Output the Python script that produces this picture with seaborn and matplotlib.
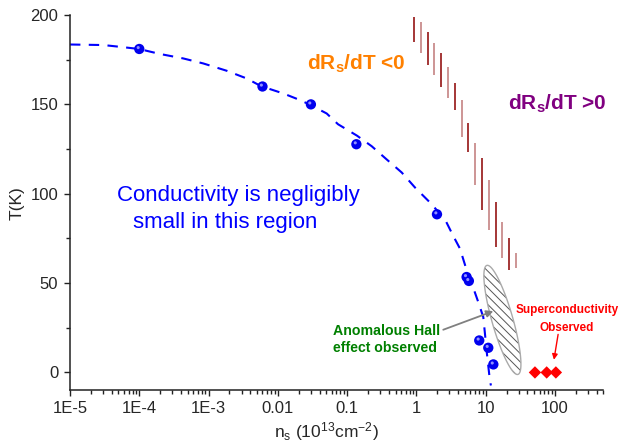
import matplotlib
matplotlib.use('agg')
import matplotlib.pyplot as plt
from matplotlib.patches import Polygon
from matplotlib.ticker import MultipleLocator, NullFormatter
import numpy as np
import seaborn as sns

# Tc points (blue spheres)
n_pts = [1e-4, 0.006, 0.03, 0.136, 1.98, 5.3, 5.72, 8.07, 10.9, 12.9]
T_pts = [181, 160, 150, 127.7, 88.5, 53.4, 51.2, 17.9, 13.8, 4.5]

# dashed guide line
n_curve = [1e-5, 3.03e-5, 5.27e-5, 9.9e-5, 1.99e-4, 4.32e-4, 8.39e-4, 1.83e-3, 3.55e-3,
           5.71e-3, 0.012, 0.0209, 0.0298, 0.0507, 0.0738, 0.1387, 0.226, 0.372, 0.613,
           0.953, 1.57, 2.58, 3.40, 4.25, 5.14, 6.27, 7.81, 9.23, 9.75, 10.3, 11.5, 11.9]
T_curve = [183.5, 183.2, 182.2, 181, 178.2, 175.7, 172.9, 168.8, 164.5,
           160.2, 156.1, 152.4, 149.6, 144.9, 138.9, 132.5, 126.6, 119.2, 111.9,
           103.5, 95.1, 85.7, 76.4, 69.3, 59, 49.9, 39.4, 31, 21.8, 12.3, -4.5, -7.3]

# superconducting samples
n_sc = [51.4, 75.9, 103]
T_sc = [0, 0, 0]

# dRs/dT sign boundary (short vertical strokes)
n_bnd = [0.93, 1.16, 1.45, 1.81, 2.26, 2.88, 3.60, 4.50, 5.60, 7.0, 8.74, 11.1, 13.9, 17.3, 21.7, 27.1]
T_bnd_top = [198.9, 196.1, 190.5, 184.3, 178.7, 170.9, 161.9, 152.4, 139.5, 128.3, 119.9, 107.6, 95.2, 84.0, 75.1, 66.7]
T_bnd_bot = [184.9, 178.7, 172.0, 166.4, 159.7, 153.5, 146.8, 131.7, 123.2, 104.8, 90.8, 79.6, 70.0, 63.9, 57.1, 58.3]

# anomalous Hall region (ends of the hatched ellipse)
ah_top = (10.4, 59.9)
ah_bot = (29.2, -1.1)

x_ticks = [1e-5, 1e-4, 1e-3, 1e-2, 1e-1, 1, 10, 100]
x_labels = ['1E-5', '1E-4', '1E-3', '0.01', '0.1', '1', '10', '100']
y_ticks = [0, 50, 100, 150, 200]

sns.set_theme(style='ticks')
plt.rcParams['font.family'] = ['Liberation Sans', 'DejaVu Sans']
plt.rcParams['mathtext.fontset'] = 'custom'
plt.rcParams['mathtext.rm'] = 'Liberation Sans'
plt.rcParams['mathtext.it'] = 'Liberation Sans:italic'
plt.rcParams['mathtext.bf'] = 'Liberation Sans:bold'
plt.rcParams['hatch.linewidth'] = 0.7

fig = plt.figure(figsize=(6.19, 4.47), dpi=100)
ax = fig.add_axes([0.1131, 0.1268, 0.8617, 0.8396])
ax.set_xscale('log')
ax.set_xlim(1e-5, 500)
ax.set_ylim(-10, 200)

sns.lineplot(x=n_curve, y=T_curve, ax=ax, color='#0000FF', lw=1.5,
             linestyle=(0, (5, 4)), sort=False, estimator=None)
sns.scatterplot(x=n_pts, y=T_pts, ax=ax, color='#0000EE', s=55, edgecolor='none', zorder=4)
# little highlight to fake the sphere look
hl = matplotlib.transforms.offset_copy(ax.transData, fig=fig, x=-0.8, y=1.0, units='points')
ax.scatter(n_pts, T_pts, s=5, color='#9090FF', edgecolor='none', transform=hl, zorder=5)
sns.scatterplot(x=n_sc, y=T_sc, ax=ax, color='#FF0000', marker='D', s=40, edgecolor='none',
                zorder=4, clip_on=False)

ax.vlines(n_bnd, T_bnd_bot, T_bnd_top, colors=['#8B0000', '#C07878'], lw=1.1)

# hatched ellipse, built in display space so it looks right on the log axis
p1 = ax.transData.transform(ah_top)
p2 = ax.transData.transform(ah_bot)
c = (p1 + p2) / 2
u = (p2 - p1) / 2
v = np.array([u[1], -u[0]]) / np.hypot(*u) * 10.5 * fig.dpi / 100
t = np.linspace(0, 2 * np.pi, 200)
pts = c + np.outer(np.cos(t), u) + np.outer(np.sin(t), v)
pts = ax.transData.inverted().transform(pts)
ax.add_patch(Polygon(pts, closed=True, facecolor='white', edgecolor='#555555',
                     hatch='\\\\\\\\', lw=0, zorder=3))
ax.add_patch(Polygon(pts, closed=True, facecolor='none', edgecolor='#AAAAAA', lw=1, zorder=3))

# texts
ax.text(0.026, 169.2, r'dR$_\mathbf{s}$/dT <0', color='#FF8000', fontsize=15,
        fontweight='bold', va='baseline')
ax.text(21.2, 146.8, r'dR$_\mathbf{s}$/dT >0', color='#800080', fontsize=15,
        fontweight='bold', va='baseline')
ax.text(4.72e-5, 95.8, 'Conductivity is negligibly', color='#0000FF', fontsize=16, va='baseline')
ax.text(8.1e-5, 80.7, 'small in this region', color='#0000FF', fontsize=16, va='baseline')
ax.text(0.063, 20.7, 'Anomalous Hall', color='#008000', fontsize=10.2, fontweight='bold', va='baseline')
ax.text(0.063, 11.2, 'effect observed', color='#008000', fontsize=10.2, fontweight='bold', va='baseline')
ax.text(150, 33.2, 'Superconductivity', color='#FF0000', fontsize=8.5, fontweight='bold',
        ha='center', va='baseline')
ax.text(150, 23.1, 'Observed', color='#FF0000', fontsize=8.5, fontweight='bold',
        ha='center', va='baseline')

ax.annotate('', xy=(12.9, 34.3), xytext=(2.44, 23.9),
            arrowprops=dict(arrowstyle='-|>', color='#808080', lw=1.3,
                            mutation_scale=10, shrinkA=0, shrinkB=0))
ax.annotate('', xy=(96.6, 7.1), xytext=(111, 21.3),
            arrowprops=dict(arrowstyle='-|>', color='#FF0000', lw=1,
                            mutation_scale=8, shrinkA=0, shrinkB=0))

# axes styling
ax.set_xticks(x_ticks, x_labels)
ax.xaxis.set_minor_formatter(NullFormatter())
ax.set_yticks(y_ticks)
ax.yaxis.set_minor_locator(MultipleLocator(25))
ax.tick_params(which='major', length=4.5, width=1, pad=3.5, labelsize=12, color='#222222')
ax.tick_params(which='minor', length=2.7, width=1, color='#222222')
ax.tick_params(axis='y', pad=4)
for s in ['left', 'bottom']:
    ax.spines[s].set_linewidth(1.1)
    ax.spines[s].set_color('#222222')
sns.despine(ax=ax)

ax.set_xlabel(r'n$_\mathrm{s}$ (10$^{13}$cm$^{-2}$)', fontsize=12.5)
ax.xaxis.label.set_va('center')
ax.xaxis.set_label_coords(0.481, -0.11)
ax.set_ylabel('T(K)', fontsize=12.5)
ax.yaxis.label.set_va('center')
ax.yaxis.set_label_coords(-0.099, 0.5)

plt.savefig('out.png', dpi=100)
plt.close()
